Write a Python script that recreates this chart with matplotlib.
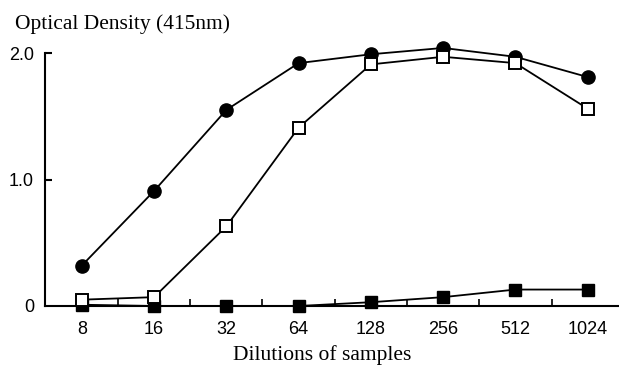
import numpy as np
import matplotlib.pyplot as plt

# Dilution categories and optical density readings.
dilutions = ["8", "16", "32", "64", "128", "256", "512", "1024"]
od_filled_circle = [0.32, 0.91, 1.55, 1.92, 1.99, 2.04, 1.97, 1.81]
od_open_square = [0.05, 0.07, 0.63, 1.41, 1.91, 1.97, 1.92, 1.56]
od_filled_square = [0.01, 0.0, 0.0, 0.0, 0.03, 0.07, 0.13, 0.13]
y_ticks = [1.0, 2.0]
y_tick_labels = ["1.0", "2.0"]

x = np.arange(len(dilutions))

fig = plt.figure(figsize=(6.19, 3.69), dpi=100)
ax = fig.add_axes([45 / 619, 1 - 306 / 369, 573 / 619, 253 / 369])

ax.plot(x, od_filled_square, color="black", lw=1.3, marker="s", ms=8.5,
        mfc="black", mec="black", clip_on=False, zorder=3)
ax.plot(x, od_filled_circle, color="black", lw=1.3, marker="o", ms=9.5,
        mfc="black", mec="black", clip_on=False, zorder=4)
ax.plot(x, od_open_square, color="black", lw=1.3, marker="s", ms=8.5,
        mfc="white", mec="black", mew=1.4, clip_on=False, zorder=5)

ax.set_xlim(-0.51, 7.42)
ax.set_ylim(0, 2.0)

for s in ["top", "right"]:
    ax.spines[s].set_visible(False)
for s in ["left", "bottom"]:
    ax.spines[s].set_linewidth(1.5)

ax.set_xticks(x)
ax.set_xticklabels(dilutions, fontsize=13, family="Liberation Sans")
ax.set_xticks(x[:-1] + 0.5, minor=True)
ax.tick_params(axis="x", which="major", length=0, pad=11)
ax.tick_params(axis="x", which="minor", direction="in", length=5, width=1.2)

ax.set_yticks([0] + y_ticks)
ax.set_yticklabels(["0"] + y_tick_labels, fontsize=13, family="Liberation Sans")
ax.tick_params(axis="y", direction="in", length=5, width=1.5, pad=8)
ax.yaxis.get_major_ticks()[0].tick1line.set_visible(False)

fig.text(15 / 619, 1 - 24 / 369, "Optical Density (415nm)", fontsize=15.5,
         family="Liberation Serif", va="center", ha="left")
fig.text(322 / 619, 1 - 355 / 369, "Dilutions of samples", fontsize=15.5,
         family="Liberation Serif", va="center", ha="center")

fig.savefig("out.png", dpi=100)
